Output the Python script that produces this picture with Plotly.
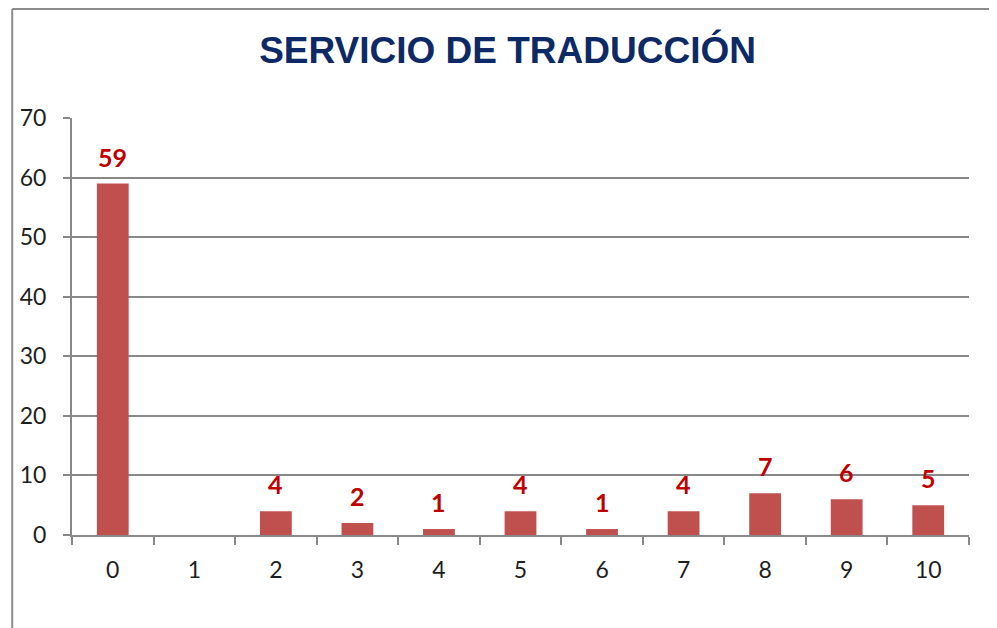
import plotly.graph_objects as go

categories = ["0", "1", "2", "3", "4", "5", "6", "7", "8", "9", "10"]
values = [59, 0, 4, 2, 1, 4, 1, 4, 7, 6, 5]
title_text = "SERVICIO DE TRADUCCIÓN"
y_ticks = [0, 10, 20, 30, 40, 50, 60, 70]

W, H = 989, 620
ML, MT, MR, MB = 61, 110, 28, 93
plot_w = W - ML - MR
plot_h = H - MT - MB

fig = go.Figure()
fig.add_trace(go.Bar(
    x=categories, y=values,
    marker=dict(color="#C0504D", line=dict(width=0)),
    width=0.39,
    hoverinfo="x+y",
))

for c, v in zip(categories, values):
    if v > 0:
        fig.add_annotation(
            x=c, y=v, text=str(v), showarrow=False,
            yanchor="bottom", yshift=10,
            font=dict(family="Lato, Open Sans, sans-serif", size=25, color="#C00000", weight="bold"),
        )

grid_col = "#888888"
fig.update_layout(
    width=W, height=H,
    margin=dict(l=ML, r=MR, t=MT, b=MB),
    paper_bgcolor="white", plot_bgcolor="white",
    showlegend=False,
    title=dict(
        text="<b>" + title_text + "</b>",
        x=(506 - 8 - ML) / plot_w, xref="paper", xanchor="center",
        y=1 - (50 - 8) / H, yref="container", yanchor="middle",
        font=dict(family="Liberation Sans, Arial, sans-serif", size=37, color="#0D2A66"),
    ),
    font=dict(family="Lato, Open Sans, sans-serif", size=23, color="#1E1E1E"),
    bargap=0.61,
)

fig.update_xaxes(
    type="category", range=[-0.5, 10.5],
    showline=True, linecolor=grid_col, linewidth=2,
    ticks="outside", tickson="boundaries", ticklen=8, tickwidth=2, tickcolor=grid_col,
    showgrid=False, ticklabelstandoff=13,
    tickfont=dict(size=23, color="#1E1E1E"),
)
fig.update_yaxes(
    range=[0, 70], tickvals=y_ticks,
    showline=True, linecolor=grid_col, linewidth=2,
    ticks="outside", ticklen=7, tickwidth=2, tickcolor=grid_col,
    showgrid=True, gridcolor=grid_col, gridwidth=2,
    zeroline=False, ticklabelstandoff=12,
    tickfont=dict(size=23, color="#1E1E1E"),
)

# chart frame (left and top edges)
fx = (1 - ML) / plot_w
fy = 1 + (MT - 1) / plot_h
fig.add_shape(type="line", xref="paper", yref="paper",
              x0=fx, x1=fx, y0=fy, y1=-0.4,
              line=dict(color="#8C8C8C", width=2))
fig.add_shape(type="line", xref="paper", yref="paper",
              x0=fx, x1=1.2, y0=fy, y1=fy,
              line=dict(color="#8C8C8C", width=2))

fig.write_html("out.html")
